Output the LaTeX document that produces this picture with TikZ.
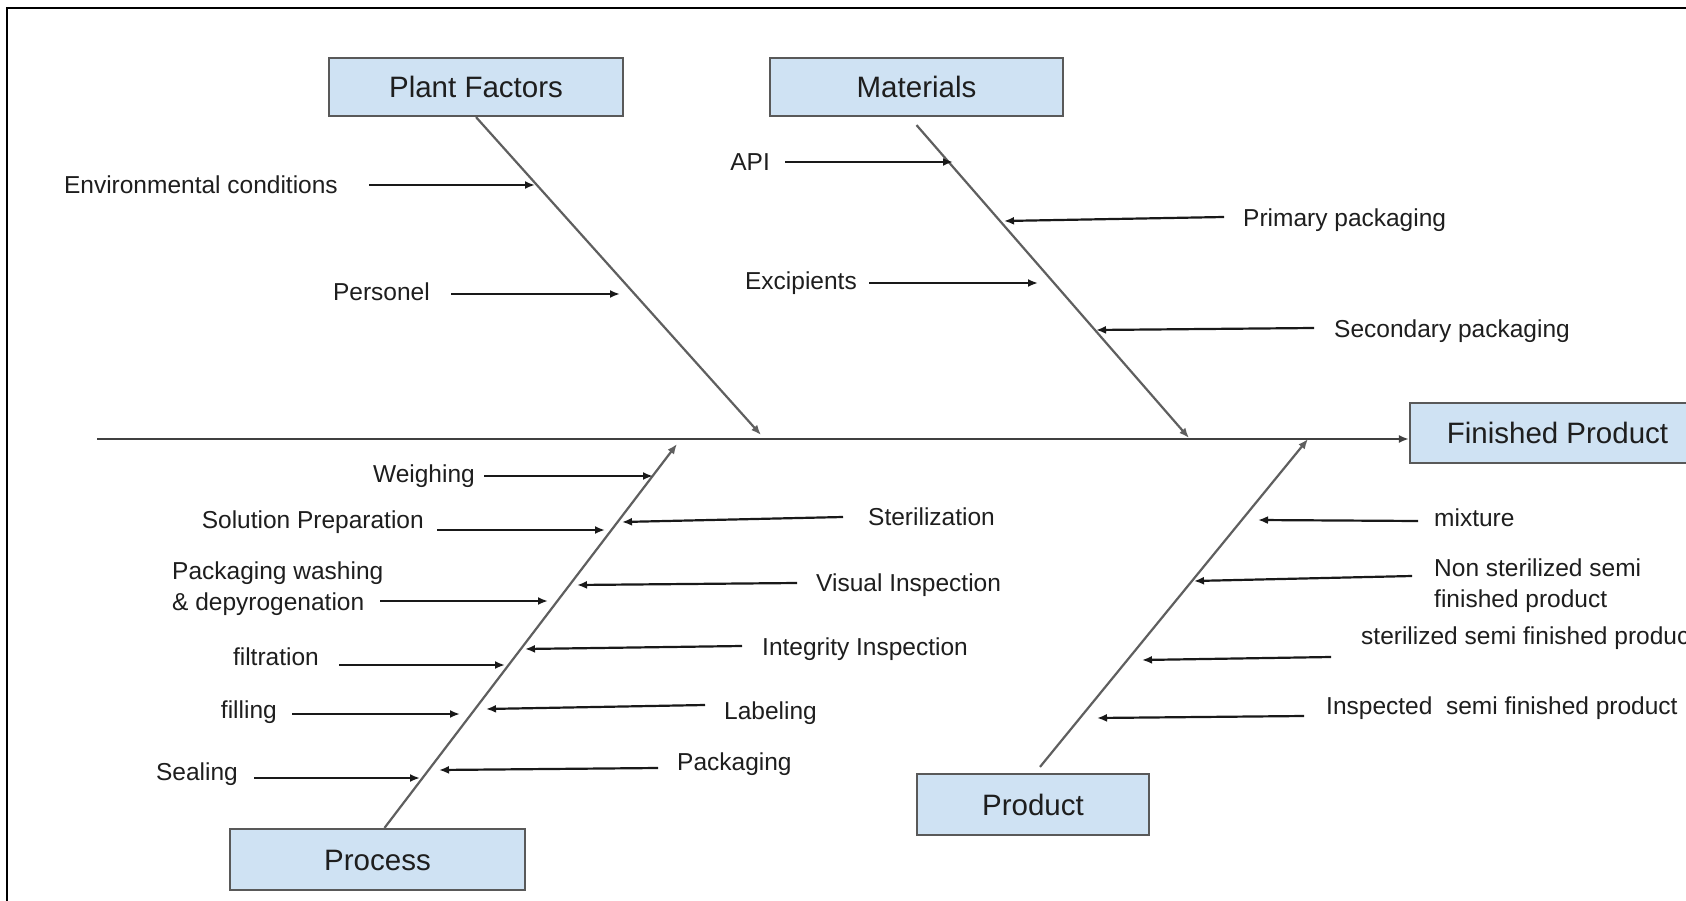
\documentclass[tikz,border=0pt]{standalone}
\usepackage{fontspec}
\setmainfont{Liberation Sans}
\usetikzlibrary{arrows.meta}
\definecolor{boxfill}{HTML}{CFE2F3}
\definecolor{boxline}{HTML}{595959}
\definecolor{boneline}{HTML}{5F5F5F}
\definecolor{txt}{HTML}{1E1E1E}
\begin{document}
\begin{tikzpicture}[x=1pt,y=-1pt,
  catbox/.style={draw=boxline, fill=boxfill, line width=2.2pt, inner sep=0pt, text=txt,
    font=\fontsize{29.5}{34}\selectfont, text height=21pt, text depth=0pt},
  lab/.style={inner sep=0pt, text=txt, font=\fontsize{24.5}{31}\selectfont, text height=17.5pt, text depth=0pt},
  mlab/.style={inner sep=0pt, text=txt, font=\fontsize{24.5}{31}\selectfont, align=left},
  bone/.style={draw=boneline, line width=2.2pt, -{Latex[length=10pt,width=8pt]}},
  sub/.style={draw=black!90, line width=2.2pt, -{Latex[length=10pt,width=8pt]}},
  spine/.style={draw=black!75, line width=2.8pt, -{Latex[length=10pt,width=8pt]}},
]
\clip (0,0) rectangle (1686,901);
\fill[white] (0,0) rectangle (1686,901);
% frame
\draw[line width=2pt] (7,905) -- (7,8) -- (1690,8);

% category boxes
\node[catbox, minimum width=294pt, minimum height=58pt] (pf) at (476,87) {Plant Factors};
\node[catbox, minimum width=293pt, minimum height=58pt] (mat) at (916.5,87) {Materials};
\node[catbox, minimum width=295pt, minimum height=60pt] (fp) at (1557.5,433) {Finished Product};
\node[catbox, minimum width=232pt, minimum height=61pt] (prod) at (1033,804.5) {Product};
\node[catbox, minimum width=295pt, minimum height=61pt] (proc) at (377.5,859.5) {Process};

% spine and bones
\coordinate (spS) at (97,439);
\coordinate (pfT) at (761,435);
\coordinate (matT) at (1189,438);
\coordinate (procT) at (677,444);
\coordinate (prodT) at (1308,439);
\draw[spine] (spS) -- (spS -| fp.west);
\draw[bone] (pf.south) -- (pfT);
\draw[bone] ([yshift=-8pt]mat.south) -- (matT);
\draw[bone] ([xshift=7pt]proc.north) -- (procT);
\draw[bone] ([xshift=7pt,yshift=6pt]prod.north) -- (prodT);

% labels
\node[lab, anchor=east] (env) at (338,185) {Environmental conditions};
\node[lab, anchor=east] (pers) at (430,292) {Personel};
\node[lab, anchor=east] (api) at (770,162) {API};
\node[lab, anchor=east] (exc) at (857,281) {Excipients};
\node[lab, anchor=west] (prim) at (1243,218) {Primary packaging};
\node[lab, anchor=west] (sec) at (1334,329) {Secondary packaging};

\node[lab, anchor=east] (weigh) at (475,474) {Weighing};
\node[lab, anchor=east] (sol) at (424,520) {Solution Preparation};
\node[mlab, anchor=north west] (wash) at (172,562) {Packaging washing\\\& depyrogenation};
\node[lab, anchor=east] (filt) at (319,657) {filtration};
\node[lab, anchor=east] (fill) at (277,710) {filling};
\node[lab, anchor=east] (seal) at (238,772) {Sealing};
\node[lab, anchor=west] (ster) at (868,517) {Sterilization};
\node[lab, anchor=west] (vis) at (816,583) {Visual Inspection};
\node[lab, anchor=west] (integ) at (762,647) {Integrity Inspection};
\node[lab, anchor=west] (labl) at (724,711) {Labeling};
\node[lab, anchor=west] (packg) at (677,762) {Packaging};

\node[lab, anchor=west] (mix) at (1434,518) {mixture};
\node[mlab, anchor=north west] (nonst) at (1434,559) {Non sterilized semi\\finished product};
\node[lab, anchor=west] (sst) at (1361,636) {sterilized semi finished product};
\node[lab, anchor=west] (insp) at (1326,706) {Inspected\ \ semi finished product};

% sub-cause arrows
\coordinate (envS) at (369,185);   \coordinate (envT) at (535,185);
\coordinate (persS) at (451,294);  \coordinate (persT) at (620,294);
\coordinate (apiS) at (785,162);   \coordinate (apiT) at (953,162);
\coordinate (excS) at (869,283);   \coordinate (excT) at (1038,283);
\coordinate (primS) at (1224,217); \coordinate (primT) at (1004,221);
\coordinate (secS) at (1314,328);  \coordinate (secT) at (1096,330);
\coordinate (weighS) at (484,476); \coordinate (weighT) at (653,476);
\coordinate (solS) at (437,530);   \coordinate (solT) at (605,530);
\coordinate (washS) at (380,601);  \coordinate (washT) at (548,601);
\coordinate (filtS) at (339,665);  \coordinate (filtT) at (505,665);
\coordinate (fillS) at (292,714);  \coordinate (fillT) at (460,714);
\coordinate (sealS) at (254,778);  \coordinate (sealT) at (420,778);
\coordinate (sterS) at (843,517);  \coordinate (sterT) at (622,522);
\coordinate (visS) at (797,583);   \coordinate (visT) at (577,585);
\coordinate (integS) at (742,646); \coordinate (integT) at (525,649);
\coordinate (lablS) at (705,705);  \coordinate (lablT) at (486,709);
\coordinate (packgS) at (658,768); \coordinate (packgT) at (439,770);
\coordinate (mixS) at (1418,521);  \coordinate (mixT) at (1258,520);
\coordinate (nonstS) at (1412,576);\coordinate (nonstT) at (1194,581);
\coordinate (sstS) at (1331,657);  \coordinate (sstT) at (1142,660);
\coordinate (inspS) at (1304,716); \coordinate (inspT) at (1097,718);

\foreach \n in {env,pers,api,exc,prim,sec,weigh,sol,wash,filt,fill,seal,ster,vis,integ,labl,packg,mix,nonst,sst,insp}
  \draw[sub] (\n S) -- (\n T);
\end{tikzpicture}
\end{document}
